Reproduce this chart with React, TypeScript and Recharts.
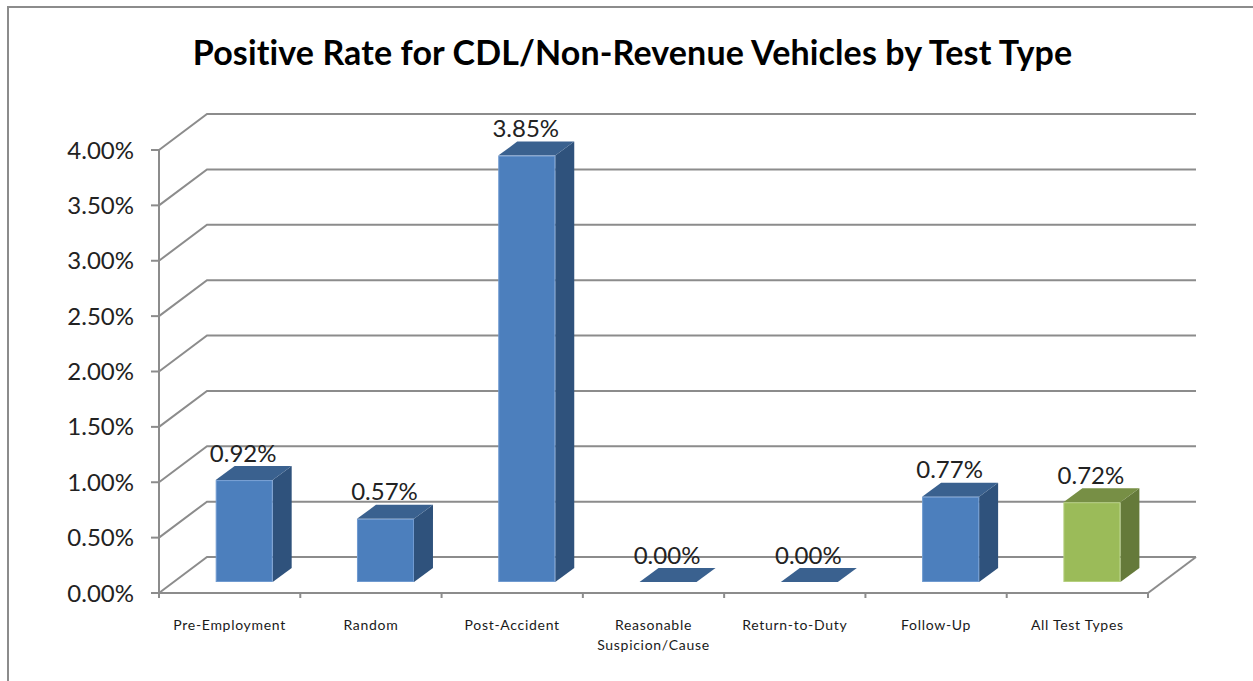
import * as React from 'react';
import { BarChart, Bar, XAxis, YAxis, CartesianGrid, Cell, LabelList, Text } from 'recharts';

const FONT = 'Lato, sans-serif';
const AXIS_COLOR = '#8c8c8c';

const categories = [
  'Pre-Employment',
  'Random',
  'Post-Accident',
  'Reasonable Suspicion/Cause',
  'Return-to-Duty',
  'Follow-Up',
  'All Test Types'
];
const rates = [0.92, 0.57, 3.85, 0, 0, 0.77, 0.72];
const yTicks = [0, 0.5, 1, 1.5, 2, 2.5, 3, 3.5, 4];

const data = categories.map((name, i) => ({ name, rate: rates[i] }));

// fake 3d: back wall offset and bar depth
const WALL_DX = 48;
const WALL_DY = -36;
const BAR_DX = 14.3;
const BAR_DY = -11;
const DEPTH_DX = 19;
const DEPTH_DY = -14;

const BLUE = '#4c7fbd';
const GREEN = '#9bbb59';
const SHADES = {
  [BLUE]: { side: '#2f527c', top: '#3a618f', edge: '#6f9ad0' },
  [GREEN]: { side: '#657a3a', top: '#778f45', edge: '#b5d07e' }
};

const Bar3D = props => {
  const { x, y, width, height, fill } = props;
  const shade = SHADES[fill];
  const l = x + BAR_DX;
  const r = l + width;
  const t = y + BAR_DY;
  const b = t + height;
  return (
    <g>
      <path
        d={`M${r},${t}L${r + DEPTH_DX},${t + DEPTH_DY}L${r + DEPTH_DX},${b + DEPTH_DY}L${r},${b}Z`}
        fill={shade.side}
      />
      <path
        d={`M${l},${t}L${l + DEPTH_DX},${t + DEPTH_DY}L${r + DEPTH_DX},${t + DEPTH_DY}L${r},${t}Z`}
        fill={shade.top}
      />
      {height > 0 && (
        <rect
          x={l + 0.5}
          y={t + 0.5}
          width={width - 1}
          height={height - 1}
          fill={fill}
          stroke={shade.edge}
          strokeWidth={1}
        />
      )}
    </g>
  );
};

const renderGridLine = props => {
  const { x1, y1, x2, y, height, index } = props;
  const isFloor = y1 >= y + height - 1;
  return (
    <g key={index}>
      <path
        d={`M${x1},${y1}L${x1 + WALL_DX},${y1 + WALL_DY}L${x2 + WALL_DX},${y1 + WALL_DY}`}
        fill="none"
        stroke={AXIS_COLOR}
        strokeWidth={2}
      />
      {isFloor && (
        <path d={`M${x2},${y1}L${x2 + WALL_DX},${y1 + WALL_DY}`} stroke={AXIS_COLOR} strokeWidth={2} />
      )}
    </g>
  );
};

const renderCategoryTick = props => {
  const { x, y, payload, index } = props;
  const half = payload.offset;
  return (
    <g>
      {index === 0 && <line x1={x - half} x2={x - half} y1={y - 6} y2={y - 1} stroke={AXIS_COLOR} strokeWidth={2} />}
      <line x1={x + half} x2={x + half} y1={y - 6} y2={y - 1} stroke={AXIS_COLOR} strokeWidth={2} />
      <Text
        x={x}
        y={y + 21}
        width={135}
        textAnchor="middle"
        verticalAnchor="start"
        lineHeight={20}
        fontSize={14}
        fontFamily={FONT}
        letterSpacing={0.7}
        fill="#1a1a1a"
      >
        {payload.value}
      </Text>
    </g>
  );
};

const renderValueLabel = props => {
  const { x, y, width, value } = props;
  return (
    <text
      x={x + BAR_DX + width / 2 - 1}
      y={y + BAR_DY - 28}
      textAnchor="middle"
      dominantBaseline="central"
      fontSize={24}
      fontFamily={FONT}
      fill="#222"
    >
      {`${value.toFixed(2)}%`}
    </text>
  );
};

export default function App() {
  return (
    <div style={{ position: 'absolute', left: 0, top: 0, width: 1253, height: 681, overflow: 'hidden', background: '#fff' }}>
      <div
        style={{
          position: 'absolute',
          left: 7,
          top: 6,
          width: 1400,
          height: 900,
          borderLeft: `2px solid ${AXIS_COLOR}`,
          borderTop: `2px solid ${AXIS_COLOR}`
        }}
      />
      <div
        style={{
          position: 'absolute',
          left: 0,
          top: 29,
          width: 1265,
          textAlign: 'center',
          fontFamily: FONT,
          fontWeight: 700,
          fontSize: 34,
          letterSpacing: 0.13,
          lineHeight: '46px',
          color: '#000'
        }}
      >
        Positive Rate for CDL/Non-Revenue Vehicles by Test Type
      </div>
      <div style={{ position: 'absolute', left: 0, top: 0 }}>
        <BarChart
          width={1253}
          height={681}
          data={data}
          margin={{ top: 150, right: 105, bottom: 0, left: 0 }}
          barCategoryGap="30%"
        >
          <CartesianGrid vertical={false} horizontal={renderGridLine} />
          <XAxis
            dataKey="name"
            height={88}
            interval={0}
            tickLine={false}
            tickMargin={0}
            tick={renderCategoryTick}
            axisLine={{ stroke: AXIS_COLOR, strokeWidth: 2 }}
          />
          <YAxis
            width={159}
            domain={[0, 4]}
            ticks={yTicks}
            interval={0}
            tickSize={8}
            tickMargin={17}
            tickLine={{ stroke: AXIS_COLOR, strokeWidth: 2 }}
            axisLine={{ stroke: AXIS_COLOR, strokeWidth: 2 }}
            tickFormatter={v => `${v.toFixed(2)}%`}
            tick={{ fontSize: 24, fontFamily: FONT, fill: '#222' }}
          />
          <Bar dataKey="rate" shape={Bar3D} isAnimationActive={false}>
            {data.map((entry, i) => (
              <Cell key={i} fill={i === data.length - 1 ? GREEN : BLUE} />
            ))}
            <LabelList dataKey="rate" content={renderValueLabel} />
          </Bar>
        </BarChart>
      </div>
    </div>
  );
}
